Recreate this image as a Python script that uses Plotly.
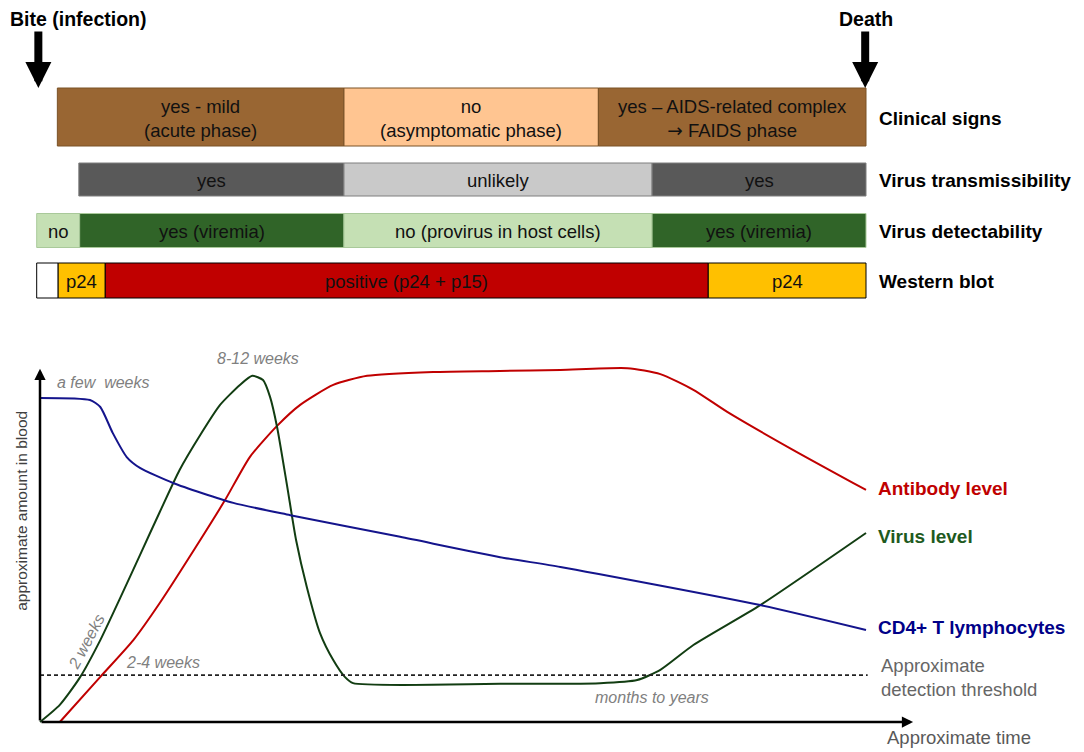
import plotly.graph_objects as go

# ---------------- DATA ----------------
# time axis: 0 = infection (bite), 100 = death
row_names = ["Clinical signs", "Virus transmissibility", "Virus detectability", "Western blot"]

clin_start = [2.1, 36.8, 67.6]
clin_end = [36.8, 67.6, 100]
clin_text = ["yes - mild<br>(acute phase)", "no<br>(asymptomatic phase)",
             "yes – AIDS-related complex<br><span style='font-family:DejaVu Sans'>→</span> FAIDS phase"]

trans_start = [4.7, 36.8, 74.1]
trans_end = [36.8, 74.1, 100]
trans_text = ["yes", "unlikely", "yes"]

detect_start = [-0.4, 4.8, 36.8, 74.1]
detect_end = [4.8, 36.8, 74.1, 100]
detect_text = ["no", "yes (viremia)", "no (provirus in host cells)", "yes (viremia)"]

wb_start = [-0.4, 2.2, 7.9, 80.9]
wb_end = [2.2, 7.9, 80.9, 100]
wb_text = ["", "p24", "positive (p24 + p15)", "p24"]

event_names = ["Bite (infection)", "Death"]
event_time = [-0.2, 99.9]

# curves (approximate amount in blood, arbitrary units)
ab_t = [2.4, 7.3, 11.3, 14.5, 19.4, 22.4, 25.4, 28.7, 31.5, 35.5, 39.6, 47.6, 55.7, 63.0, 71.1, 75.1, 79.1, 83.2, 91.2, 100]
ab_v = [0, 12.9, 23.4, 34.0, 52.0, 63.4, 75.7, 84.6, 90.6, 96.3, 98.9, 100.0, 100.3, 100.6, 101.1, 99.4, 94.9, 88.6, 77.7, 66.3]

virus_t = [0, 2.4, 4.8, 7.3, 9.7, 12.1, 14.5, 16.9, 19.4, 21.8, 24.2, 25.7, 27.0, 27.85, 28.7, 29.9, 31.0, 32.3, 33.9,
           35.5, 36.9, 37.9, 55.7, 67.8, 72.3, 75.1, 79.1, 87.2, 100]
virus_v = [0, 4.9, 12.6, 23.4, 35.4, 47.7, 60.0, 72.0, 82.0, 90.6, 96.3, 98.9, 97.7, 92.9, 84.3, 67.7, 52.0, 38.6, 25.4,
           17.7, 12.9, 11.1, 10.9, 11.1, 12.0, 14.9, 22.0, 33.4, 54.0]

cd4_t = [0, 6.05, 7.3, 8.8, 10.5, 12.1, 16.1, 23.4, 30.3, 43.6, 55.7, 63.0, 87.2, 100]
cd4_v = [92.6, 92.0, 90.0, 82.6, 75.7, 72.6, 68.3, 62.6, 59.1, 52.9, 47.1, 44.3, 33.4, 26.3]

threshold = 13.4
threshold_t = [0, 100.2]

curve_labels = ["Antibody level", "Virus level", "CD4+ T lymphocytes"]
note_text = ["a few\u00a0 weeks", "8-12 weeks", "2 weeks", "2-4 weeks", "months to years"]
note_t = [7.6, 26.4, 5.6, 14.9, 74.1]
note_v = [96.9, 104.0, 23.1, 16.9, 6.9]
note_angle = [0, 0, -62, 0, 0]

# ---------------- STYLE / LAYOUT ----------------
FONT = "Liberation Sans, Arial, sans-serif"
row_center = [117, 179.5, 230.5, 280.5]   # in yaxis2 (top panel) units
row_height = [58, 33, 34, 35]
row_colors = [
    ["#996633", "#FFC591", "#996633"],
    ["#595959", "#C9C9C9", "#595959"],
    ["#C5E0B4", "#306428", "#C5E0B4", "#306428"],
    ["#FFFFFF", "#FFC000", "#C00000", "#FFC000"],
]
row_line = ["#7A5226", "#7F7F7F", "#A9C99A", "#000000"]

rows = [
    (clin_start, clin_end, clin_text),
    (trans_start, trans_end, trans_text),
    (detect_start, detect_end, detect_text),
    (wb_start, wb_end, wb_text),
]

fig = go.Figure()
annotations = []

for i, (s, e, txt) in enumerate(rows):
    fig.add_trace(go.Bar(
        orientation="h",
        y=[row_center[i]] * len(s),
        x=[b - a for a, b in zip(s, e)],
        base=s,
        width=[row_height[i]] * len(s),
        marker=dict(color=row_colors[i], line=dict(color=row_line[i], width=1)),
        yaxis="y2", xaxis="x",
        hoverinfo="skip", showlegend=False,
    ))
    for a, b, t in zip(s, e, txt):
        if t:
            annotations.append(dict(
                x=(a + b) / 2, y=row_center[i] + 1, xref="x", yref="y2",
                text=t, showarrow=False, xanchor="center", yanchor="middle",
                font=dict(family=FONT, size=18.5, color="#111111")))
    annotations.append(dict(
        x=101.3, y=row_center[i] + 1, xref="x", yref="y2", text="<b>%s</b>" % row_names[i],
        showarrow=False, xanchor="left", yanchor="middle",
        font=dict(family=FONT, size=19, color="#000000")))

# event arrows and labels
event_label_x = [-3.85, 100.0]
event_label_anchor = ["left", "center"]
for name, t, lx, anc in zip(event_names, event_time, event_label_x, event_label_anchor):
    annotations.append(dict(x=t, y=88, xref="x", yref="y2", ax=0, ay=-58, text="",
                            showarrow=True, arrowhead=2, arrowsize=0.65, arrowwidth=8,
                            arrowcolor="#000000", standoff=0))
    annotations.append(dict(x=lx, y=19, xref="x", yref="y2", text="<b>%s</b>" % name,
                            showarrow=False, xanchor=anc, yanchor="middle",
                            font=dict(family=FONT, size=19.5, color="#000000")))

# curves
fig.add_trace(go.Scatter(x=ab_t, y=ab_v, mode="lines", line=dict(color="#C00000", width=2, shape="spline", smoothing=0.6),
                         hoverinfo="skip", showlegend=False))
fig.add_trace(go.Scatter(x=virus_t, y=virus_v, mode="lines", line=dict(color="#123D12", width=2, shape="spline", smoothing=0.6),
                         hoverinfo="skip", showlegend=False))
fig.add_trace(go.Scatter(x=cd4_t, y=cd4_v, mode="lines", line=dict(color="#14148C", width=2, shape="spline", smoothing=0.6),
                         hoverinfo="skip", showlegend=False))
fig.add_trace(go.Scatter(x=threshold_t, y=[threshold, threshold], mode="lines",
                         line=dict(color="#222222", width=1.6, dash="4px,3px"),
                         hoverinfo="skip", showlegend=False))

# axes drawn as arrows
annotations.append(dict(x=105.7, y=0, ax=0, ay=0, xref="x", yref="y", axref="x", ayref="y", text="",
                        showarrow=True, arrowhead=2, arrowsize=0.9, arrowwidth=2.5, arrowcolor="#000000", standoff=0))
annotations.append(dict(x=0, y=100.9, ax=0, ay=0, xref="x", yref="y", axref="x", ayref="y", text="",
                        showarrow=True, arrowhead=2, arrowsize=0.9, arrowwidth=2.5, arrowcolor="#000000", standoff=0))

# curve labels
label_v = [66.6, 52.9, 26.9]
label_col = ["#C00000", "#1E5A1E", "#000088"]
for lab, v, c in zip(curve_labels, label_v, label_col):
    annotations.append(dict(x=101.2, y=v, xref="x", yref="y", text="<b>%s</b>" % lab, showarrow=False,
                            xanchor="left", yanchor="middle", font=dict(family=FONT, size=19, color=c)))
annotations.append(dict(x=101.6, y=12.6, xref="x", yref="y", text="Approximate<br>detection threshold",
                        showarrow=False, xanchor="left", yanchor="middle", align="left",
                        font=dict(family=FONT, size=18.5, color="#666666")))
annotations.append(dict(x=102.3, y=-4.3, xref="x", yref="y", text="Approximate time", showarrow=False,
                        xanchor="left", yanchor="middle", font=dict(family=FONT, size=18.5, color="#595959")))
annotations.append(dict(x=-2.2, y=60.3, xref="x", yref="y", text="approximate amount in blood", showarrow=False,
                        textangle=-90, xanchor="center", yanchor="middle",
                        font=dict(family=FONT, size=15.5, color="#404040")))

for t, tx, v, ang in zip(note_text, note_t, note_v, note_angle):
    annotations.append(dict(x=tx, y=v, xref="x", yref="y", text="<i>%s</i>" % t, showarrow=False,
                            textangle=ang, xanchor="center", yanchor="middle",
                            font=dict(family=FONT, size=16, color="#808080")))

# the page places the figure 8px from the top-left corner; size and ranges compensate
fig.update_layout(
    width=1076, height=744,
    margin=dict(l=0, r=0, t=0, b=0, pad=0),
    paper_bgcolor="white", plot_bgcolor="white",
    barmode="overlay",
    xaxis=dict(range=[-3.874, 126.39], visible=False, fixedrange=True),
    yaxis=dict(range=[-8.571, 204.0], visible=False, fixedrange=True),
    yaxis2=dict(range=[752, 8], overlaying="y", visible=False, fixedrange=True),
    annotations=annotations,
    showlegend=False,
)

fig.write_html("out.html")
